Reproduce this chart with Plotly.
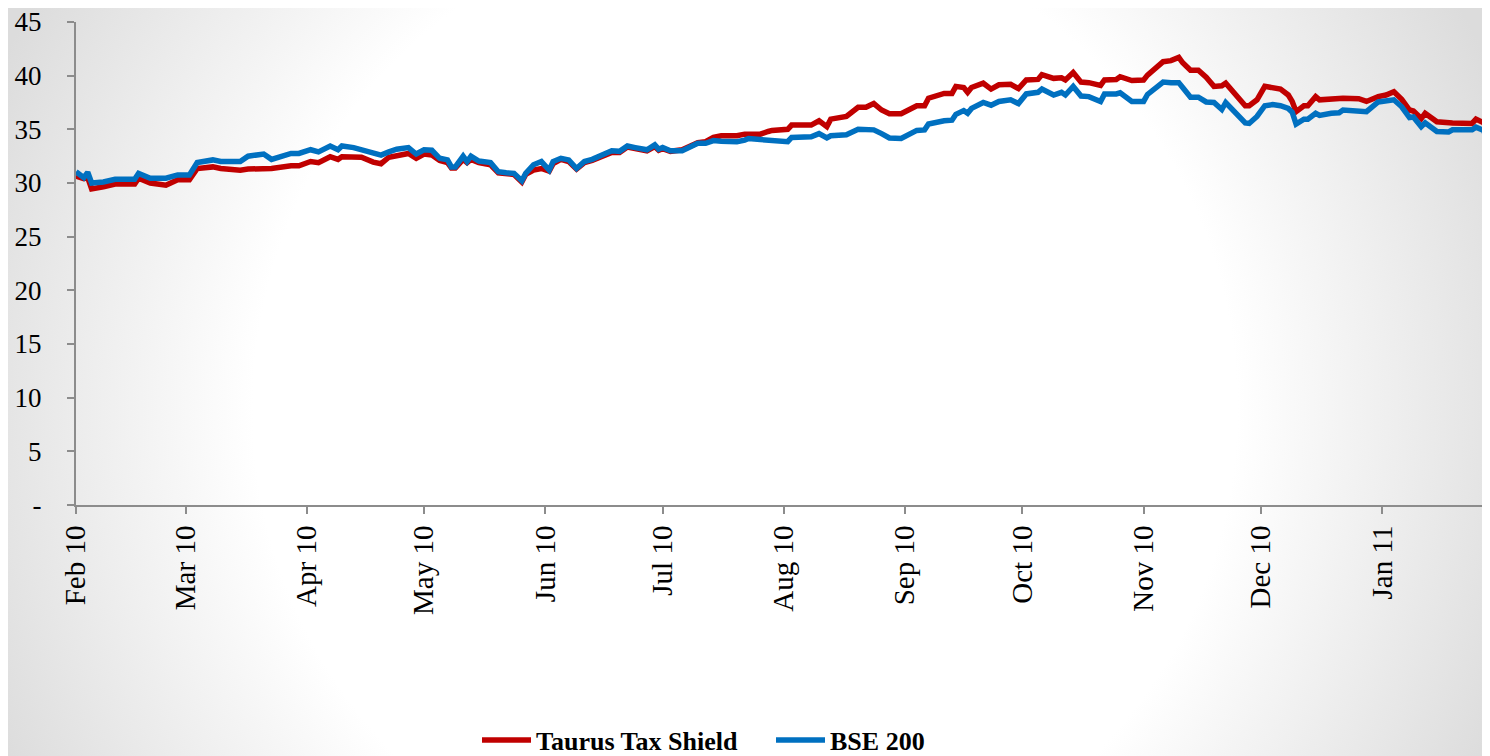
import base64
import plotly.graph_objects as go

dates = [
    "2010-02-01", "2010-02-03", "2010-02-04", "2010-02-05", "2010-02-08", "2010-02-11",
    "2010-02-16", "2010-02-17", "2010-02-20", "2010-02-24", "2010-02-27", "2010-03-02",
    "2010-03-04", "2010-03-08", "2010-03-10", "2010-03-15", "2010-03-17", "2010-03-21",
    "2010-03-23", "2010-03-28", "2010-03-30", "2010-04-02", "2010-04-04", "2010-04-07",
    "2010-04-09", "2010-04-10", "2010-04-13", "2010-04-15", "2010-04-18", "2010-04-20",
    "2010-04-22", "2010-04-24", "2010-04-27", "2010-04-29", "2010-05-01", "2010-05-03",
    "2010-05-05", "2010-05-07", "2010-05-08", "2010-05-09", "2010-05-11", "2010-05-12",
    "2010-05-13", "2010-05-15", "2010-05-18", "2010-05-20", "2010-05-22", "2010-05-24",
    "2010-05-26", "2010-05-27", "2010-05-29", "2010-05-31", "2010-06-02", "2010-06-03",
    "2010-06-05", "2010-06-07", "2010-06-09", "2010-06-11", "2010-06-13", "2010-06-16",
    "2010-06-18", "2010-06-20", "2010-06-22", "2010-06-24", "2010-06-27", "2010-06-29",
    "2010-06-30", "2010-07-01", "2010-07-03", "2010-07-06", "2010-07-08", "2010-07-10",
    "2010-07-12", "2010-07-14", "2010-07-16", "2010-07-20", "2010-07-22", "2010-07-23",
    "2010-07-26", "2010-07-28", "2010-07-29", "2010-08-02", "2010-08-03", "2010-08-08",
    "2010-08-10", "2010-08-12", "2010-08-13", "2010-08-17", "2010-08-20", "2010-08-22",
    "2010-08-24", "2010-08-26", "2010-08-28", "2010-08-31", "2010-09-02", "2010-09-04",
    "2010-09-06", "2010-09-07", "2010-09-11", "2010-09-13", "2010-09-14", "2010-09-16",
    "2010-09-17", "2010-09-18", "2010-09-21", "2010-09-23", "2010-09-25", "2010-09-28",
    "2010-09-30", "2010-10-02", "2010-10-05", "2010-10-06", "2010-10-09", "2010-10-11",
    "2010-10-12", "2010-10-14", "2010-10-16", "2010-10-18", "2010-10-21", "2010-10-22",
    "2010-10-25", "2010-10-26", "2010-10-29", "2010-11-01", "2010-11-02", "2010-11-03",
    "2010-11-06", "2010-11-08", "2010-11-10", "2010-11-11", "2010-11-13", "2010-11-15",
    "2010-11-17", "2010-11-19", "2010-11-21", "2010-11-22", "2010-11-24", "2010-11-27",
    "2010-11-28", "2010-11-30", "2010-12-02", "2010-12-04", "2010-12-06", "2010-12-08",
    "2010-12-09", "2010-12-10", "2010-12-12", "2010-12-13", "2010-12-15", "2010-12-16",
    "2010-12-19", "2010-12-21", "2010-12-22", "2010-12-26", "2010-12-28", "2010-12-31",
    "2011-01-02", "2011-01-04", "2011-01-06", "2011-01-08", "2011-01-09", "2011-01-11",
    "2011-01-12", "2011-01-15", "2011-01-18", "2011-01-19", "2011-01-24", "2011-01-25",
    "2011-01-27", "2011-01-28",
]

taurus = [
    30.65, 30.4, 30.5, 29.45, 29.65, 29.9, 29.9, 30.45, 30.0, 29.8, 30.3, 30.3,
    31.35, 31.5, 31.35, 31.2, 31.3, 31.35, 31.35, 31.6, 31.6, 32.0, 31.9, 32.45,
    32.2, 32.45, 32.45, 32.4, 31.95, 31.8, 32.4, 32.55, 32.75, 32.3, 32.7, 32.6,
    32.1, 31.9, 31.4, 31.4, 32.2, 31.9, 32.2, 31.9, 31.7, 30.95, 30.85, 30.8,
    30.1, 30.8, 31.2, 31.35, 31.1, 31.8, 32.2, 32.0, 31.3, 31.9, 32.1, 32.6,
    32.85, 32.85, 33.35, 33.2, 33.0, 33.4, 33.05, 33.2, 32.95, 33.1, 33.4, 33.75,
    33.85, 34.25, 34.4, 34.4, 34.55, 34.55, 34.55, 34.8, 34.9, 35.0, 35.4, 35.4,
    35.8, 35.25, 35.95, 36.2, 37.05, 37.05, 37.4, 36.8, 36.45, 36.45, 36.8, 37.2,
    37.2, 37.9, 38.35, 38.35, 39.0, 38.9, 38.45, 38.9, 39.3, 38.75, 39.15, 39.2,
    38.8, 39.6, 39.65, 40.1, 39.75, 39.8, 39.6, 40.3, 39.4, 39.35, 39.1, 39.6,
    39.65, 39.9, 39.55, 39.6, 40.05, 40.35, 41.3, 41.4, 41.7, 41.2, 40.5, 40.5,
    39.85, 39.0, 39.05, 39.3, 38.5, 37.2, 37.2, 37.75, 39.0, 38.85, 38.75, 38.2,
    37.6, 36.65, 37.2, 37.2, 38.05, 37.75, 37.8, 37.9, 37.9, 37.85, 37.6, 38.05,
    38.2, 38.5, 37.8, 36.8, 36.7, 36.0, 36.5, 35.7, 35.55, 35.6, 35.55, 35.95,
    35.6, 34.8,
]

bse200 = [
    31.05, 30.5, 31.0, 30.0, 30.1, 30.35, 30.35, 30.9, 30.45, 30.45, 30.75, 30.75,
    31.9, 32.15, 32.0, 32.0, 32.5, 32.7, 32.2, 32.75, 32.75, 33.1, 32.9, 33.45,
    33.1, 33.45, 33.3, 33.1, 32.8, 32.6, 32.9, 33.15, 33.3, 32.7, 33.1, 33.05,
    32.3, 32.15, 31.5, 31.5, 32.5, 32.0, 32.5, 32.05, 31.9, 31.05, 30.95, 30.9,
    30.2, 30.9, 31.7, 32.0, 31.2, 32.0, 32.3, 32.15, 31.35, 32.0, 32.2, 32.7,
    33.0, 32.95, 33.45, 33.3, 33.1, 33.55, 33.15, 33.3, 33.0, 33.0, 33.4, 33.7,
    33.7, 33.95, 33.9, 33.85, 34.0, 34.15, 34.05, 34.0, 34.0, 33.85, 34.25, 34.3,
    34.6, 34.2, 34.4, 34.5, 35.0, 35.0, 34.95, 34.6, 34.2, 34.15, 34.6, 34.9,
    34.95, 35.5, 35.8, 35.85, 36.4, 36.75, 36.5, 36.95, 37.5, 37.25, 37.6, 37.75,
    37.4, 38.3, 38.45, 38.75, 38.2, 38.45, 38.2, 39.0, 38.1, 38.05, 37.6, 38.3,
    38.3, 38.4, 37.6, 37.6, 38.25, 38.5, 39.4, 39.35, 39.35, 38.9, 38.0, 38.0,
    37.55, 37.5, 36.85, 37.5, 36.7, 35.6, 35.55, 36.2, 37.2, 37.3, 37.2, 36.95,
    36.6, 35.5, 35.95, 35.95, 36.5, 36.3, 36.5, 36.55, 36.8, 36.75, 36.65, 37.55,
    37.6, 37.75, 37.1, 36.1, 36.15, 35.25, 35.6, 34.8, 34.75, 34.95, 34.95, 35.2,
    34.9, 33.7,
]

y_tick_values = [0, 5, 10, 15, 20, 25, 30, 35, 40, 45]
y_tick_labels = ["-", "5", "10", "15", "20", "25", "30", "35", "40", "45"]

month_ticks = ["2010-02-01", "2010-03-01", "2010-04-01", "2010-05-01", "2010-06-01",
               "2010-07-01", "2010-08-01", "2010-09-01", "2010-10-01", "2010-11-01",
               "2010-12-01", "2011-01-01"]
month_labels = ["Feb 10", "Mar 10", "Apr 10", "May 10", "Jun 10", "Jul 10", "Aug 10",
                "Sep 10", "Oct 10", "Nov 10", "Dec 10", "Jan 11"]

# The page body has an 8px margin, so the figure is sized to end at the window edge.
W, H = 1482, 748
ML, MR, MT, MB = 68, 0, 14, 251
PW, PH = W - ML - MR, H - MT - MB

svg = f'''<svg xmlns="http://www.w3.org/2000/svg" width="{W}" height="{H}" viewBox="0 0 {W} {H}" preserveAspectRatio="none">
<defs><radialGradient id="g" gradientUnits="userSpaceOnUse" cx="737" cy="400" r="820">
<stop offset="0" stop-color="#ffffff"/><stop offset="0.6" stop-color="#ffffff"/>
<stop offset="1" stop-color="#dcdcdc"/></radialGradient></defs>
<rect width="{W}" height="{H}" fill="url(#g)"/></svg>'''
bg_src = "data:image/svg+xml;base64," + base64.b64encode(svg.encode()).decode()

fig = go.Figure()
fig.add_trace(go.Scatter(x=dates, y=taurus, mode="lines", name="Taurus Tax Shield",
                         line=dict(color="#C00000", width=5.5)))
fig.add_trace(go.Scatter(x=dates, y=bse200, mode="lines", name="BSE 200",
                         line=dict(color="#0070C0", width=5.5)))

fig.add_layout_image(dict(source=bg_src, xref="paper", yref="paper",
                          x=-ML / PW, y=1 + MT / PH, sizex=W / PW, sizey=H / PH,
                          xanchor="left", yanchor="top", sizing="stretch", layer="below"))

fig.update_layout(
    width=W, height=H,
    margin=dict(l=ML, r=MR, t=MT, b=MB),
    paper_bgcolor="white",
    plot_bgcolor="rgba(0,0,0,0)",
    font=dict(family="Liberation Serif, Times New Roman, serif", color="#000000", size=24),
    showlegend=True,
    legend=dict(orientation="h", xref="container", yref="container",
                x=469 / W, y=1 - 732 / H, xanchor="left", yanchor="middle",
                font=dict(size=26, family="Liberation Serif, Times New Roman, serif",
                          weight="bold"),
                bgcolor="rgba(0,0,0,0)", itemwidth=49, tracegroupgap=0,
                entrywidth=230, entrywidthmode="pixels"),
    xaxis=dict(
        type="date",
        range=["2010-02-01", "2011-01-28 14:00"],
        tickvals=month_ticks, ticktext=month_labels,
        tickangle=-90,
        showgrid=False, zeroline=False,
        showline=True, linecolor="#8c8c8c", linewidth=2,
        ticks="outside", ticklen=7, tickwidth=2, tickcolor="#8c8c8c",
        tickfont=dict(size=29),
        ticklabeloverflow="allow",
    ),
    yaxis=dict(
        range=[0, 45],
        tickvals=y_tick_values, ticktext=y_tick_labels,
        showgrid=False, zeroline=False,
        showline=True, linecolor="#8c8c8c", linewidth=2,
        ticks="outside", ticklen=7, tickwidth=2, tickcolor="#8c8c8c",
        tickfont=dict(size=27),
        ticklabelstandoff=20,
        ticklabeloverflow="allow",
    ),
)

fig.write_html("out.html")
